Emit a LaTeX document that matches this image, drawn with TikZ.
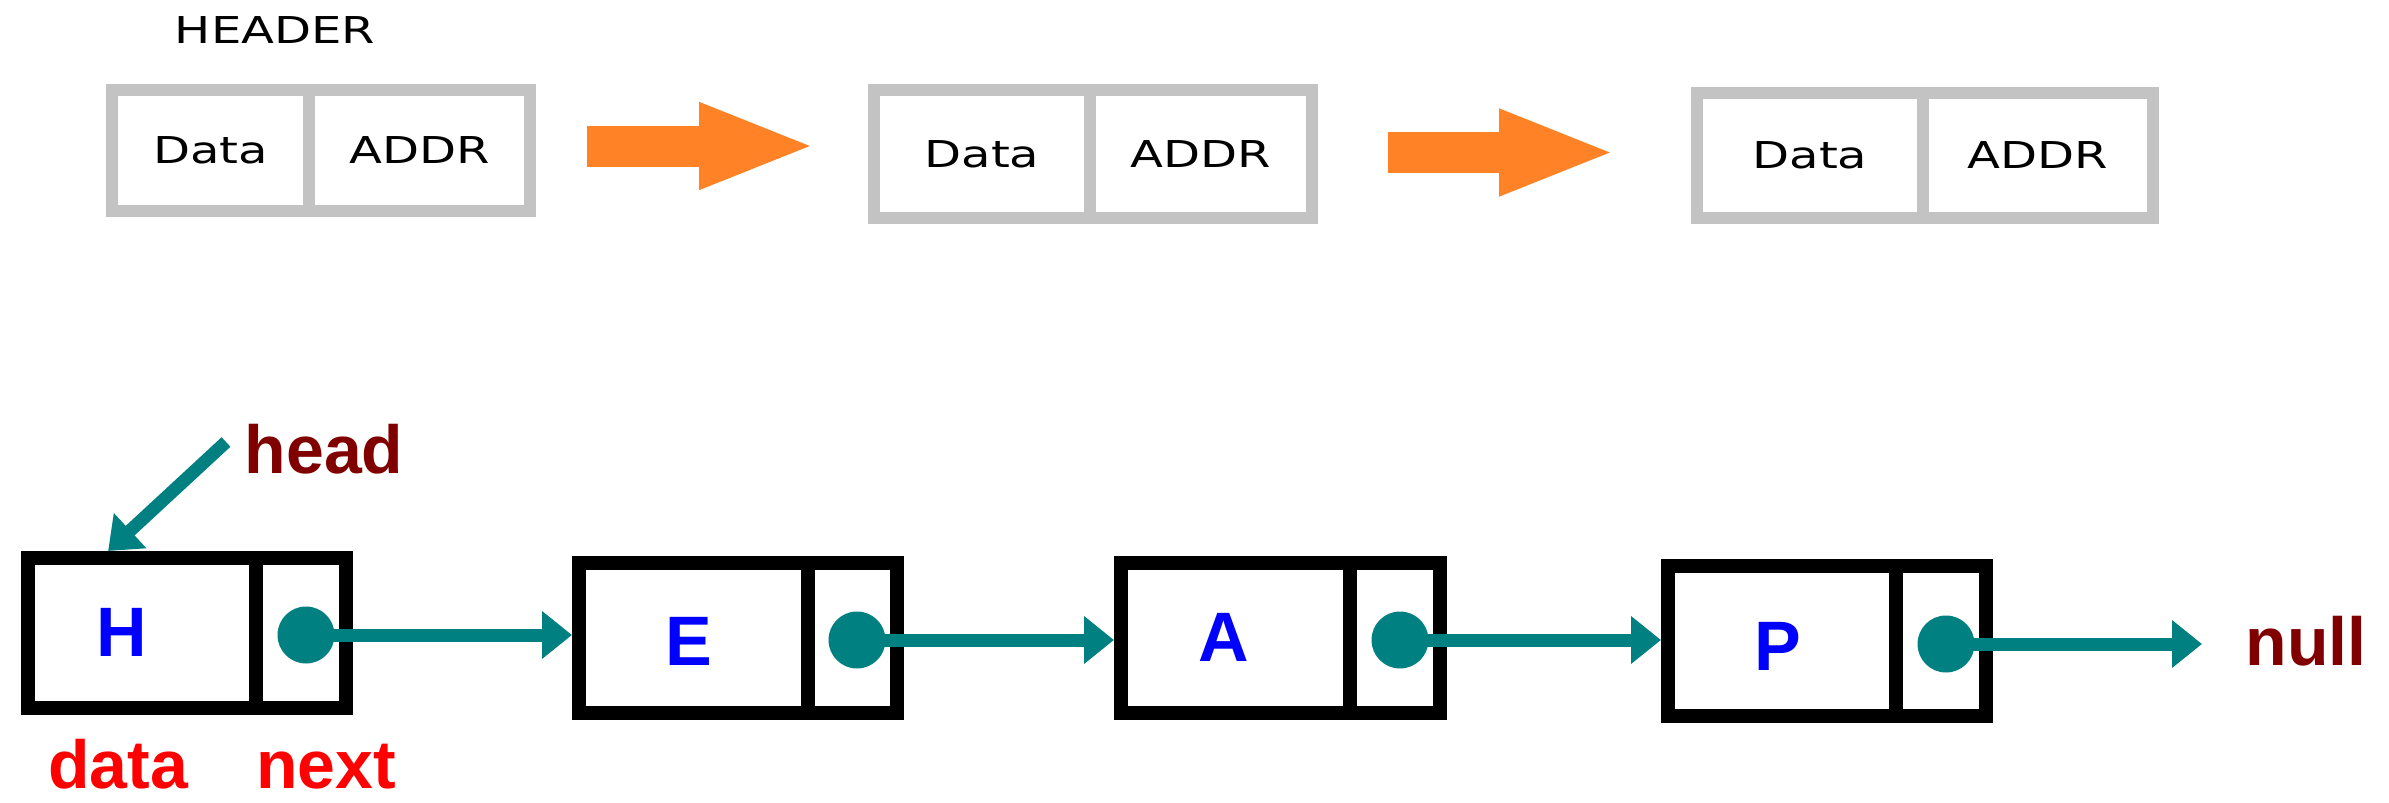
\documentclass[tikz,border=0pt]{standalone}
\usepackage{fontspec}
\newfontfamily\cellfont[FakeStretch=1.3]{DejaVu Sans}
\newfontfamily\listfont{Liberation Sans}
\usetikzlibrary{arrows.meta,calc}
\definecolor{framegray}{RGB}{195,195,195}
\definecolor{flow}{RGB}{255,130,38}
\definecolor{link}{RGB}{0,128,128}
\definecolor{tagred}{RGB}{128,0,0}
\definecolor{keyred}{RGB}{255,0,0}
\definecolor{letterblue}{RGB}{0,0,255}

\begin{document}
\begin{tikzpicture}[x=0.5pt,y=-0.5pt,
  topcell/.style={draw=framegray,line width=6pt,rectangle,inner sep=0pt,
    font=\cellfont\fontsize{18.5pt}{22pt}\selectfont,text=black},
  listcell/.style={draw=black,line width=7pt,rectangle,inner sep=0pt,minimum height=75pt},
  ptrdot/.style={circle,fill=link,inner sep=0pt,minimum size=28.5pt},
  letter/.style={anchor=base,inner sep=0pt,text=letterblue,font=\listfont\bfseries\fontsize{35pt}{40pt}\selectfont},
  tag/.style={anchor=base,inner sep=0pt,font=\listfont\bfseries\fontsize{34pt}{40pt}\selectfont},
  flowarrow/.style={draw=flow,line width=20.5pt,-{Triangle[length=59pt,width=39pt]}},
  linkarrow/.style={draw=link,line width=6.5pt,-{Triangle[length=15pt,width=23pt]}}]
\useasboundingbox (0,0) rectangle (2389,803);

% --- top row: generic node layout ---
\node[anchor=base,inner sep=0pt,font=\cellfont\fontsize{18.5pt}{22pt}\selectfont] (header) at (275,43) {HEADER};

\node[topcell,minimum width=98.5pt,minimum height=60.5pt] (B1d) at (210.5,150.5) {Data};
\node[topcell,minimum width=110.5pt,minimum height=60.5pt] (B1a) at (419.5,150.5) {ADDR};

\node[topcell,minimum width=108pt,minimum height=64pt] (B2d) at (982,154) {Data};
\node[topcell,minimum width=111pt,minimum height=64pt] (B2a) at (1201,154) {ADDR};

\node[topcell,minimum width=113pt,minimum height=62.5pt] (B3d) at (1810,155.5) {Data};
\node[topcell,minimum width=115pt,minimum height=62.5pt] (B3a) at (2038,155.5) {ADDR};

\draw[flowarrow,shorten <=25.5pt,shorten >=25.5pt]
  ([yshift=2.25pt]B1a.east) -- ([yshift=2.25pt]B1a.east -| B2d.west);
\draw[flowarrow,shorten <=35pt,shorten >=37pt]
  ([yshift=0.75pt]B2a.east) -- ([yshift=0.75pt]B2a.east -| B3d.west);

% --- bottom row: linked list H -> E -> A -> P -> null ---
\node[listcell,minimum width=114pt] (Hd) at (142,633) {};
\node[listcell,minimum width=45pt] (Hn) at (301,633) {};
\node[listcell,minimum width=114.5pt] (Ed) at (693.5,638) {};
\node[listcell,minimum width=44.5pt] (En) at (852.5,638) {};
\node[listcell,minimum width=114.5pt] (Ad) at (1235.5,638) {};
\node[listcell,minimum width=45pt] (An) at (1395,638) {};
\node[listcell,minimum width=114pt] (Pd) at (1782,641) {};
\node[listcell,minimum width=45pt] (Pn) at (1941,641) {};

\node[letter] (Ht) at (122,656) {H};
\node[letter] (Et) at (689,665) {E};
\node[letter] (At) at (1224,661) {A};
\node[letter] (Pt) at (1778,670) {P};

\node[ptrdot] (Hdot) at (306,635) {};
\node[ptrdot] (Edot) at (857,640) {};
\node[ptrdot] (Adot) at (1400,640) {};
\node[ptrdot] (Pdot) at (1946,644) {};

\draw[linkarrow] (Hdot.center) -- (Hdot.center -| Ed.west);
\draw[linkarrow] (Edot.center) -- (Edot.center -| Ad.west);
\draw[linkarrow] (Adot.center) -- (Adot.center -| Pd.west);
\coordinate (nullend) at (2202,644);
\draw[linkarrow] (Pdot.center) -- (nullend);

\node[tag,text=tagred] (null) at (2306,665) {null};
\node[tag,text=tagred] (head) at (324,473) {head};
\node[tag,text=keyred] (data) at (118,788) {data};
\node[tag,text=keyred] (next) at (326,788) {next};

\coordinate (headfrom) at (226,442);
\draw[linkarrow] (headfrom) -- ($(Hd.north west)!0.36!(Hd.north east)$);
\end{tikzpicture}
\end{document}
